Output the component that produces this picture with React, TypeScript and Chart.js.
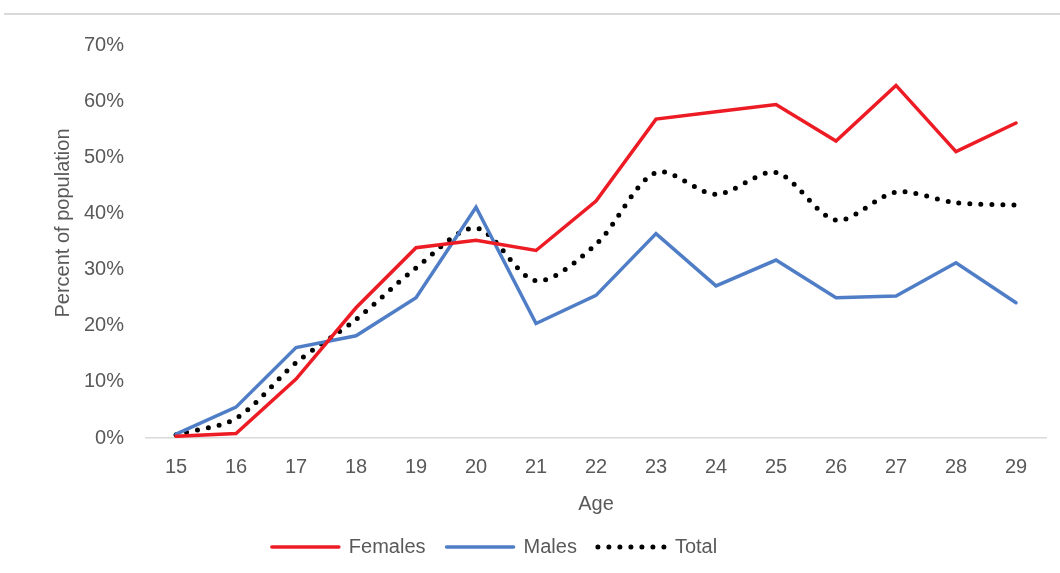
import React, { useEffect, useRef } from "react";
import { Chart, registerables } from "chart.js";

Chart.register(...registerables);

const ages = ["15", "16", "17", "18", "19", "20", "21", "22", "23", "24", "25", "26", "27", "28", "29"];
const females = [0.3, 0.8, 10.5, 23.2, 33.9, 35.2, 33.4, 42.2, 56.8, 58.1, 59.4, 52.9, 62.8, 51.0, 56.1];
const males = [0.7, 5.5, 16.1, 18.2, 25.0, 41.1, 20.4, 25.4, 36.4, 27.1, 31.7, 25.0, 25.3, 31.2, 24.1];
const total = [0.6, 3.5, 13.4, 21.1, 30.3, 37.4, 28.0, 34.5, 47.3, 43.4, 47.3, 38.8, 43.8, 41.9, 41.5];
const yTitle = "Percent of population";
const xTitle = "Age";

const FONT = "'Liberation Sans', Arial, sans-serif";
const GRAY = "#595959";

const topRule = {
  id: "topRule",
  beforeDraw(chart: any) {
    const ctx = chart.ctx;
    ctx.save();
    ctx.strokeStyle = "#d9d9d9";
    ctx.lineWidth = 2;
    ctx.beginPath();
    ctx.moveTo(4, 14);
    ctx.lineTo(chart.width, 14);
    ctx.stroke();
    ctx.restore();
  },
};

const yTitlePlugin = {
  id: "yTitlePlugin",
  afterDraw(chart: any) {
    const ctx = chart.ctx;
    ctx.save();
    ctx.translate(63, 223);
    ctx.rotate(-Math.PI / 2);
    ctx.fillStyle = GRAY;
    ctx.font = "20px " + FONT;
    ctx.textAlign = "center";
    ctx.textBaseline = "middle";
    ctx.fillText(yTitle, 0, 0);
    ctx.restore();
  },
};

const legendShift = {
  id: "legendShift",
  afterLayout(chart: any) {
    const l = chart.legend;
    if (l) {
      l.left -= 52;
      l.right -= 52;
    }
  },
};

export default function App() {
  const ref = useRef<HTMLCanvasElement>(null);
  useEffect(() => {
    if (!ref.current) return;
    const chart = new Chart(ref.current, {
      type: "line",
      data: {
        labels: ages,
        datasets: [
          {
            label: "Females",
            data: females,
            borderColor: "#ED1C24",
            backgroundColor: "#ED1C24",
            borderWidth: 3.5,
            pointRadius: 0,
            borderCapStyle: "round",
            tension: 0,
          },
          {
            label: "Males",
            data: males,
            borderColor: "#4F7EC6",
            backgroundColor: "#4F7EC6",
            borderWidth: 3.5,
            pointRadius: 0,
            borderCapStyle: "round",
            tension: 0,
          },
          {
            label: "Total",
            data: total,
            borderColor: "#000000",
            backgroundColor: "#000000",
            borderWidth: 5,
            borderDash: [0, 11],
            borderCapStyle: "round",
            pointRadius: 0,
            tension: 0.3,
          },
        ],
      },
      options: {
        responsive: false,
        animation: false,
        layout: { padding: { left: 47, right: 14, top: 45, bottom: 6 } },
        plugins: {
          tooltip: { enabled: false },
          legend: {
            position: "bottom",
            labels: {
              usePointStyle: true,
              pointStyle: "line",
              pointStyleWidth: 67,
              boxHeight: 20,
              padding: 21,
              color: GRAY,
              font: { family: FONT, size: 20 },
              generateLabels: (c: any) => {
                const items = (Chart.defaults.plugins.legend.labels as any).generateLabels(c);
                items.forEach((it: any, i: number) => {
                  const ds: any = c.data.datasets[i];
                  it.lineDash = ds.borderDash || [];
                  it.lineCap = ds.borderCapStyle;
                  it.lineWidth = ds.borderWidth;
                  it.strokeStyle = ds.borderColor;
                  it.pointStyle = "line";
                });
                return items;
              },
            },
          },
        },
        scales: {
          x: {
            offset: true,
            grid: { display: false, tickLength: 4 },
            border: { display: true, color: "#d9d9d9", width: 1.5 },
            ticks: { color: GRAY, font: { family: FONT, size: 20 }, padding: 13, maxRotation: 0 },
            title: {
              display: true,
              text: xTitle,
              color: GRAY,
              font: { family: FONT, size: 20 },
              padding: { top: 0, bottom: 0 },
            },
          },
          y: {
            min: 0,
            max: 70,
            grid: { display: false, tickLength: 13 },
            border: { display: false },
            ticks: {
              stepSize: 10,
              color: GRAY,
              font: { family: FONT, size: 20 },
              padding: 9,
              callback: (v: any) => v + "%",
            },
            title: {
              display: true,
              text: yTitle,
              color: "rgba(0,0,0,0)",
              font: { family: FONT, size: 20 },
              padding: { top: 4, bottom: 0 },
            },
          },
        },
      },
      plugins: [topRule, legendShift, yTitlePlugin],
    });
    return () => chart.destroy();
  }, []);
  return (
    <div style={{ position: "fixed", left: 0, top: 0, width: 1060, height: 573, background: "#fff" }}>
      <canvas ref={ref} width={1060} height={573} style={{ display: "block" }} />
    </div>
  );
}
